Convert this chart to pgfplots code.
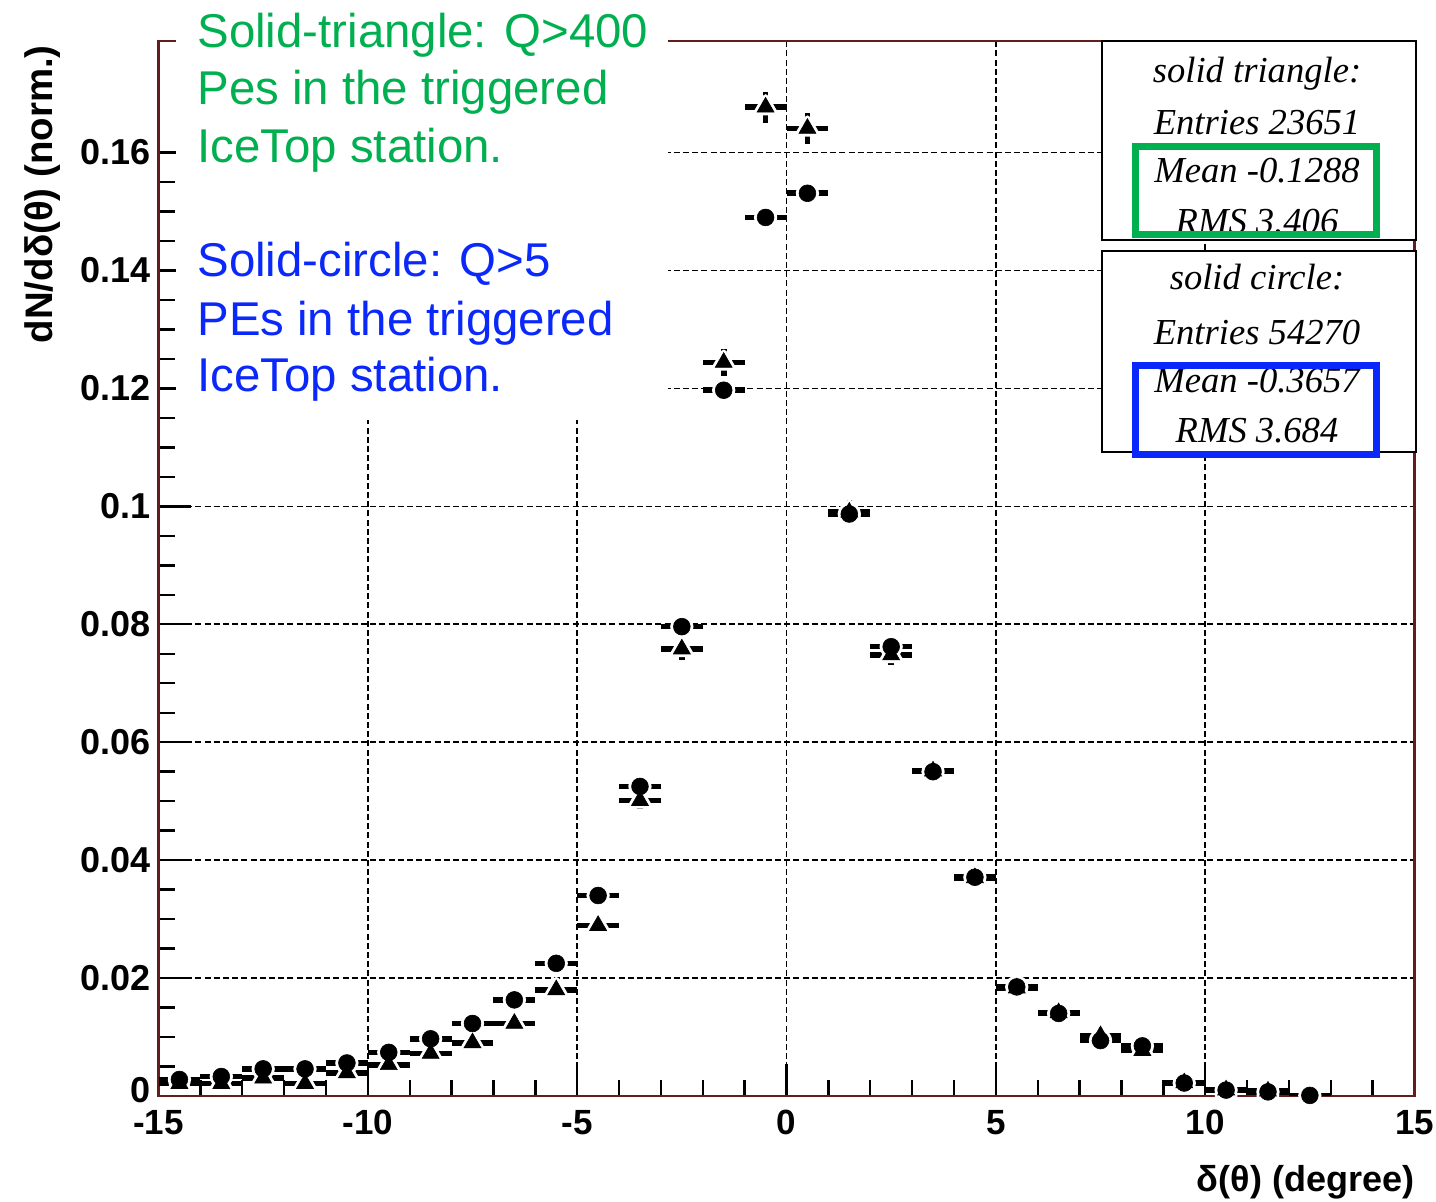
\documentclass[border=0pt]{standalone}
\usepackage{pgfplots}
\pgfplotsset{compat=1.18}
\usepackage{pgfplotstable}
\usepackage{fontspec}
\setmainfont{Liberation Sans}
\newfontfamily\statfont{Liberation Serif}
\usetikzlibrary{calc}
\definecolor{framecol}{RGB}{100,28,28}
\definecolor{anngreen}{RGB}{0,176,80}
\definecolor{annblue}{RGB}{10,40,250}

% solid circle: Q>5 PEs
\pgfplotstableread{
x y ey
-14.5 0.0028 0.00023
-13.5 0.0033 0.00025
-12.5 0.0046 0.00029
-11.5 0.0046 0.00029
-10.5 0.0056 0.00032
-9.5 0.0074 0.00037
-8.5 0.0097 0.00042
-7.5 0.0123 0.00048
-6.5 0.0163 0.00055
-5.5 0.0225 0.00064
-4.5 0.0340 0.00079
-3.5 0.0525 0.00098
-2.5 0.0796 0.00121
-1.5 0.1197 0.00149
-0.5 0.1490 0.00166
0.5 0.1531 0.00168
1.5 0.0987 0.00135
2.5 0.0762 0.00118
3.5 0.0550 0.00101
4.5 0.0371 0.00083
5.5 0.0185 0.00058
6.5 0.0140 0.00051
7.5 0.0094 0.00042
8.5 0.0085 0.00040
9.5 0.0022 0.00020
10.5 0.0010 0.00014
11.5 0.0007 0.00011
12.5 0.0001 0.00004
}\circdata

% solid triangle: Q>400 PEs
\pgfplotstableread{
x y ey
-14.5 0.0021 0.00030
-13.5 0.0021 0.00030
-12.5 0.0030 0.00036
-11.5 0.0021 0.00030
-10.5 0.0039 0.00041
-9.5 0.0053 0.00047
-8.5 0.0072 0.00055
-7.5 0.0090 0.00062
-6.5 0.0123 0.00072
-5.5 0.0180 0.00087
-4.5 0.0289 0.00110
-3.5 0.0501 0.00146
-2.5 0.0758 0.00179
-1.5 0.1244 0.00229
-0.5 0.1677 0.00266
0.5 0.1641 0.00263
1.5 0.0990 0.00205
2.5 0.0748 0.00178
3.5 0.0551 0.00153
4.5 0.0370 0.00125
5.5 0.0183 0.00088
6.5 0.0141 0.00077
7.5 0.0102 0.00066
8.5 0.0077 0.00057
9.5 0.0022 0.00030
10.5 0.0010 0.00021
11.5 0.0008 0.00018
}\tridata

\begin{document}
\begin{tikzpicture}
\useasboundingbox (0,0) rectangle (718pt,601pt);
\begin{axis}[
  at={(79.25pt,53pt)}, anchor=south west, scale only axis,
  width=628pt, height=527.5pt,
  xmin=-15, xmax=15, ymin=0, ymax=0.17893,
  xtick={-15,-10,-5,0,5,10,15},
  xticklabels={-15,-10,-5,0,5,10,15},
  ytick={0,0.02,0.04,0.06,0.08,0.1,0.12,0.14,0.16},
  yticklabels={,0.02,0.04,0.06,0.08,0.1,0.12,0.14,0.16},
  extra y ticks={0},
  extra y tick labels={0},
  extra y tick style={grid=none, major tick length=0pt, yticklabel style={yshift=3pt}},
  minor x tick num=4, minor y tick num=3,
  tick align=inside, tick pos=left,
  major tick length=16pt, minor tick length=8pt,
  tick style={black, line width=1.2pt},
  xmajorgrids, ymajorgrids,
  major grid style={black, line width=0.8pt, dash pattern=on 3pt off 1.6pt},
  axis line style={framecol, line width=1.4pt},
  xticklabel style={font=\bfseries\fontsize{17.5}{17.5}\selectfont, inner sep=0pt, anchor=north, yshift=-7pt},
  yticklabel style={font=\bfseries\fontsize{18}{18}\selectfont, inner sep=0pt, anchor=east, xshift=-4pt},
  xlabel={δ(θ) (degree)},
  xlabel style={at={(rel axis cs:1,0)}, anchor=base east, yshift=-48pt, inner sep=0pt, font=\bfseries\fontsize{18}{18}\selectfont},
  ylabel={dN/dδ(θ) (norm.)},
  ylabel style={at={($(rel axis cs:0,1)+(-53.25pt,-2pt)$)}, anchor=base east, inner sep=0pt, font=\bfseries\fontsize{19.2}{19.2}\selectfont},
  error bars/error mark=none,
]
% error bars
\addplot [only marks, mark=none, error bars/.cd, x dir=both, x fixed=0.5, y dir=both, y explicit,
  error bar style={draw=black, line width=2.8pt, line cap=butt}]
  table [x=x, y=y, y error=ey] {\circdata};
\addplot [only marks, mark=none, error bars/.cd, x dir=both, x fixed=0.5, y dir=both, y explicit,
  error bar style={draw=black, line width=2.8pt, line cap=butt}]
  table [x=x, y=y, y error=ey] {\tridata};
% white gaps around markers
\addplot [only marks, mark=*, mark size=4.2pt, mark options={fill=white, draw=white, line width=3.2pt}]
  table [x=x, y=y] {\circdata};
\addplot [only marks, mark=triangle*, mark size=4.9pt, mark options={fill=white, draw=white, line width=3.2pt, line join=round}]
  table [x=x, y=y] {\tridata};
% markers
\addplot [only marks, mark=*, mark size=4.2pt, mark options={fill=black, draw=black, line width=0.3pt}]
  table [x=x, y=y] {\circdata};
\addplot [only marks, mark=triangle*, mark size=4.9pt, mark options={fill=black, draw=black, line width=0.3pt}]
  table [x=x, y=y] {\tridata};
\end{axis}
% white annotation area
\fill[white] (88pt,391pt) rectangle (334pt,601pt);
\begin{scope}[every node/.style={anchor=base west, inner sep=0pt, font=\fontsize{23.7}{23.7}\selectfont}]
\node[text=anngreen] at (98.5pt,577pt) {Solid-triangle: Q>400};
\node[text=anngreen] at (98.5pt,548.5pt) {Pes in the triggered};
\node[text=anngreen] at (98.5pt,519.5pt) {IceTop station.};
\node[text=annblue] at (98.5pt,462.5pt) {Solid-circle: Q>5};
\node[text=annblue] at (98.5pt,433pt) {PEs in the triggered};
\node[text=annblue] at (98.5pt,405pt) {IceTop station.};
\end{scope}
% stat boxes
\draw[fill=white, line width=1pt] (551pt,481pt) rectangle (708pt,580.5pt);
\draw[fill=white, line width=1pt] (551pt,375pt) rectangle (708pt,475.5pt);
\begin{scope}[every node/.style={anchor=base, inner sep=0pt, font=\statfont\itshape\fontsize{18.3}{18.3}\selectfont}]
\node at (628.5pt,559.5pt) {solid triangle:};
\node at (628.5pt,533.5pt) {Entries 23651};
\node at (628.5pt,509.5pt) {Mean -0.1288};
\node at (628.5pt,484pt) {RMS 3.406};
\node at (628.5pt,456pt) {solid circle:};
\node at (628.5pt,428.5pt) {Entries 54270};
\node at (628.5pt,404.5pt) {Mean -0.3657};
\node at (628.5pt,379.5pt) {RMS 3.684};
\end{scope}
\draw[anngreen, line width=3.5pt] (567.75pt,483.75pt) rectangle (688.25pt,527.75pt);
\draw[annblue, line width=3.5pt] (567.75pt,373.75pt) rectangle (688.25pt,418pt);
\end{tikzpicture}
\end{document}
